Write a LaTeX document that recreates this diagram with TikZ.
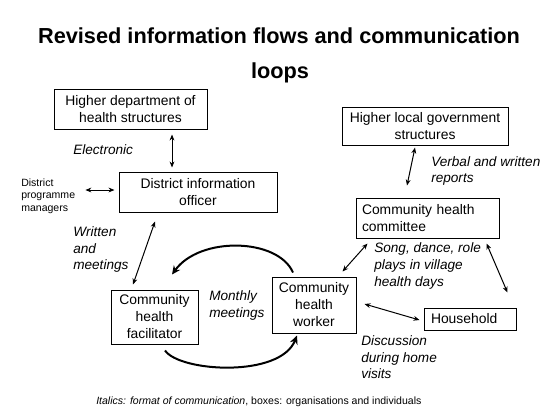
\documentclass[tikz,border=0pt]{standalone}
\usepackage{fontspec}
\setmainfont{Liberation Sans}
\usetikzlibrary{arrows.meta,calc}
\tikzset{
  orgbox/.style={draw, line width=0.75pt, inner sep=0pt, align=center,
    font=\fontsize{10.4}{12.75}\selectfont},
  lab/.style={anchor=west, inner sep=0pt, align=left,
    font=\fontsize{10.2}{12.4}\selectfont\itshape},
  dar/.style={line width=0.75pt, {Stealth[length=4.5pt,width=3.6pt]}-{Stealth[length=4.5pt,width=3.6pt]}},
  bigarr/.style={line width=1.5pt, -{Stealth[length=6.5pt,width=6pt]}}
}
\begin{document}
\begin{tikzpicture}[x=0.75pt,y=-0.75pt]
\fill[white] (0,0) rectangle (552,415);
\useasboundingbox (0,0) rectangle (552,415);

% title
\node[font=\fontsize{16.3}{20}\selectfont\bfseries] (t1) at (279,36) {Revised information flows and communication};
\node[font=\fontsize{16.3}{20}\selectfont\bfseries] (t2) at (280,73) {loops};

% boxes
\node[orgbox, minimum width=114.75pt, minimum height=30pt] (hd) at (130.5,109) {Higher department of\\health structures};
\node[orgbox, minimum width=124.5pt, minimum height=28.5pt] (hlg) at (425,126) {Higher local government\\structures};
\node[orgbox, minimum width=118.5pt, minimum height=30pt] (dio) at (198,192) {District information\\officer};
\node[orgbox, minimum width=107.25pt, minimum height=30pt, inner xsep=4.5pt, text width=98.25pt, align=left] (chc) at (427.5,218) {Community health\\committee};
\node[orgbox, minimum width=65.25pt, minimum height=40.5pt] (chf) at (154.5,317) {Community\\health\\facilitator};
\node[orgbox, minimum width=63pt, minimum height=42pt] (chw) at (314,305) {Community\\health\\worker};
\node[orgbox, minimum width=69pt, minimum height=16.5pt, inner xsep=5.25pt, text width=58.5pt, align=left] (hh) at (470,319) {Household};

% small text
\node[anchor=west, inner sep=0pt, align=left, font=\fontsize{7.9}{9.4}\selectfont] (dpm) at (21,196) {District\\programme\\managers};

% labels
\node[lab] (lel) at (73,150) {Electronic};
\node[lab] (lwr) at (73,249.5) {Written\\and\\meetings};
\node[lab] (lmo) at (209,305.5) {Monthly\\meetings};
\node[lab] (lve) at (431,171) {Verbal and written\\reports};
\node[lab] (lso) at (374,266) {Song, dance, role\\plays in village\\health days};
\node[lab] (ldi) at (361,357.5) {Discussion\\during home\\visits};

% caption
\node[anchor=west, inner sep=0pt, font=\fontsize{7.9}{9.5}\selectfont] (cap) at (96,402) {\textit{Italics: format of communication}, boxes: organisations and individuals};

% straight connectors
\draw[dar] ($(hd.south)+(41.5,5)$) -- ($(dio.north)+(-26,-4)$);
\draw[dar] ($(dpm.east |- dio.west)+(10,-2)$) -- ($(dio.west)+(-4,-2)$);
\draw[dar] ($(dio.south)+(-43,9)$) -- ($(chf.north)+(-21.5,-5)$);
\draw[dar] ($(hlg.south)+(-10,2)$) -- ($(chc.north)+(-20.5,-12)$);
\draw[dar] ($(chc.south west)+(12,5)$) -- ($(chw.north east)+(-14,-5)$);
\draw[dar] ($(chc.south east)+(-13,5)$) -- ($(hh.north east)+(-9,-15)$);
\draw[dar] ($(chw.east)+(8,-1)$) -- ($(hh.west)+(-4,1)$);

% curved connectors
\draw[bigarr] ($(chw.north)+(-21,-4)$) .. controls (278,238) and (200,236) .. ($(chf.north)+(17.5,-15)$);
\draw[bigarr] ($(chf.south)+(10.5,6)$) .. controls (180,372) and (280,378) .. ($(chw.south)+(-17,2)$);
\end{tikzpicture}
\end{document}
